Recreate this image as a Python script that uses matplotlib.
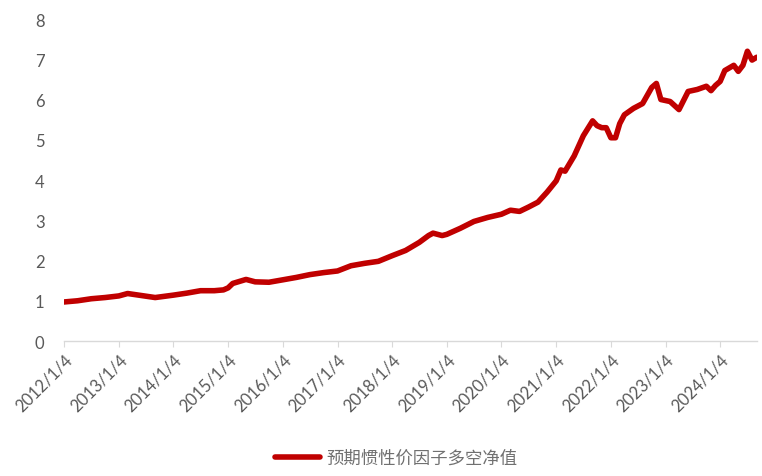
import matplotlib
matplotlib.use("Agg")
import matplotlib.pyplot as plt
import pandas as pd

# month offsets from 2012-01 and values
months = [0, 3, 6, 9, 12, 14, 17, 20, 24, 27, 30, 33, 35, 36, 37, 40, 42, 45,
          48, 51, 54, 57, 60, 63, 66, 69, 72, 75, 78, 80, 81, 83, 84, 87, 90, 93,
          96, 98, 100, 102, 104, 106, 108, 109, 110, 112, 114, 116, 117, 118, 119,
          120, 121, 122, 123, 125, 127, 129, 130, 131, 133, 135, 137, 139, 141,
          142, 143, 144, 145, 147, 148, 149, 150, 151, 152]
values = [0.97, 1.00, 1.05, 1.08, 1.12, 1.18, 1.13, 1.08, 1.14, 1.19, 1.25, 1.25,
          1.27, 1.32, 1.43, 1.53, 1.47, 1.46, 1.52, 1.58, 1.65, 1.70, 1.74, 1.87,
          1.93, 1.98, 2.12, 2.25, 2.45, 2.62, 2.68, 2.62, 2.65, 2.80, 2.97, 3.07,
          3.15, 3.25, 3.22, 3.33, 3.45, 3.70, 3.98, 4.25, 4.22, 4.60, 5.10, 5.47,
          5.35, 5.30, 5.30, 5.05, 5.05, 5.40, 5.62, 5.78, 5.90, 6.30, 6.40, 6.00,
          5.95, 5.75, 6.20, 6.25, 6.33, 6.22, 6.35, 6.45, 6.72, 6.85, 6.70, 6.85,
          7.20, 6.98, 7.05]
tick_labels = [f"{y}/1/4" for y in range(2012, 2025)]
series_name = "预期惯性价因子多空净值"

start = pd.Timestamp("2012-01-04")
dates = [start + pd.DateOffset(months=m) for m in months]
tick_dates = [pd.Timestamp(f"{y}-01-04") for y in range(2012, 2025)]

plt.rcParams['font.family'] = ['Lato', 'DejaVu Sans']
fig = plt.figure(figsize=(7.62, 4.77), dpi=100)
ax = fig.add_axes([0.084, 0.283, 0.91, 0.675])
ax.plot(dates, values, color="#C00000", lw=4.0, solid_joinstyle="round",
        solid_capstyle="round", label=series_name)

ax.set_ylim(0, 8)
ax.set_yticks(range(0, 9))
ax.set_xlim(start, dates[-1] + pd.Timedelta(days=5))
ax.set_xticks(tick_dates)
ax.set_xticklabels(tick_labels, rotation=45, ha="right", rotation_mode="anchor")

for s in ["top", "right", "left"]:
    ax.spines[s].set_visible(False)
ax.spines["bottom"].set_color("#D9D9D9")
ax.spines["bottom"].set_linewidth(1)
ax.tick_params(axis="y", length=0, pad=14, labelsize=12, labelcolor="#595959")
ax.tick_params(axis="x", length=4, color="#D9D9D9", pad=3, labelsize=12,
               labelcolor="#595959")

leg = fig.legend(loc="center", bbox_to_anchor=(0.52, 0.038), frameon=False,
                 handlelength=2.6, handletextpad=0.4,
                 prop={"family": ["Noto Sans CJK SC", "DejaVu Sans"], "size": 12.5})
for t in leg.get_texts():
    t.set_color("#707070")

fig.savefig("out.png", dpi=100)
